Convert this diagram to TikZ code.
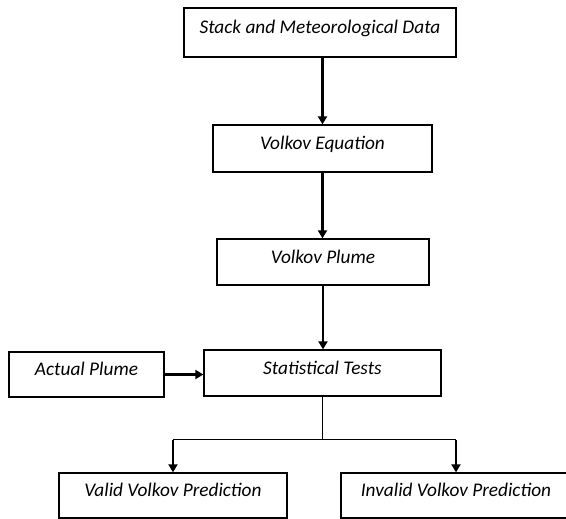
\documentclass[tikz,border=0pt]{standalone}
\usepackage{fontspec}
\setmainfont{Carlito}
\usetikzlibrary{arrows.meta}
\begin{document}
\begin{tikzpicture}[x=1pt,y=-1pt,
  box/.style={draw=black, line width=1.3pt, rectangle, inner sep=0pt,
    font=\fontsize{19.3}{22}\selectfont\itshape, text height=10pt, text depth=8pt},
  arr/.style={line width=2.5pt, -{Triangle[length=8pt,width=9pt]}},
  thinline/.style={line width=1.4pt}]
\useasboundingbox[fill=white] (0,0) rectangle (566,519);
\node[box, minimum width=272pt, minimum height=49pt] (stack) at (320,32.5) {Stack and Meteorological Data};
\node[box, minimum width=219pt, minimum height=47pt] (eq) at (322.5,148.5) {Volkov Equation};
\node[box, minimum width=212pt, minimum height=46pt] (plume) at (323,262) {Volkov Plume};
\node[box, minimum width=237pt, minimum height=46pt] (stat) at (322.5,373) {Statistical Tests};
\node[box, minimum width=155pt, minimum height=45pt] (actual) at (86.5,374.5) {Actual Plume};
\node[box, minimum width=228pt, minimum height=45pt] (valid) at (173,495.5) {Valid Volkov Prediction};
\node[box, minimum width=230pt, minimum height=45pt] (invalid) at (456,495.5) {Invalid Volkov Prediction};
\coordinate (br) at (322.5,439.5);
\draw[arr] (eq.north |- stack.south) -- (eq.north);
\draw[arr] (eq.south) -- (eq.south |- plume.north);
\draw[arr] (plume.south) -- (plume.south |- stat.north);
\draw[arr] (actual.east) -- (actual.east -| stat.west);
\draw[thinline] (stat.south) -- (br);
\draw[thinline] (valid.north |- br) -- (invalid.north |- br);
\draw[arr] ([yshift=-0.7pt]valid.north |- br) -- (valid.north);
\draw[arr] ([yshift=-0.7pt]invalid.north |- br) -- (invalid.north);
\end{tikzpicture}
\end{document}
